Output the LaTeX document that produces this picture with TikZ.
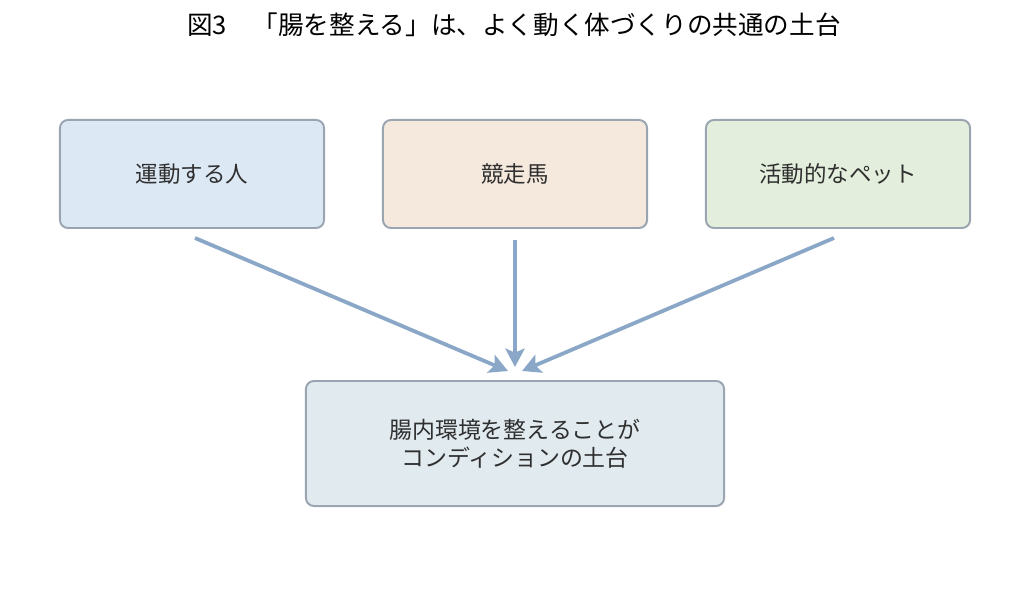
\documentclass[tikz,border=0pt]{standalone}
\usepackage{fontspec}
\setmainfont{Noto Sans CJK JP}
\usetikzlibrary{arrows.meta}
\definecolor{edgegray}{HTML}{9AA5B1}
\definecolor{arrowblue}{HTML}{8AA7C8}
\definecolor{textgray}{HTML}{2F2F2F}
\definecolor{fillblue}{HTML}{DDE8F5}
\definecolor{fillsand}{HTML}{F5E9DD}
\definecolor{fillgreen}{HTML}{E3EFDC}
\definecolor{fillbase}{HTML}{E0EAEF}

\begin{document}
\begin{tikzpicture}[x=0.025cm, y=-0.025cm]
			\tikzstyle{source} = [
				rectangle, rounded corners = 0.2cm, draw = edgegray, line width = 1.4pt,
				minimum width = 6.6cm, minimum height = 2.7cm,
				text = textgray, font = \fontsize{16}{19}\selectfont
			]
			\tikzstyle{base} = [
				source, minimum width = 10.45cm, minimum height = 3.125cm,
				align = center, font = \fontsize{16.3}{20}\selectfont
			]
			\tikzstyle{line}=[draw=arrowblue,line width=2.7pt,-{Stealth[length=4.6mm,width=4.8mm,inset=1mm]}]
			\useasboundingbox (0,0) rectangle (1029,602);
			\node[text=black, font=\fontsize{18.2}{22}\selectfont] (title) at (514,25) {図3　「腸を整える」は、よく動く体づくりの共通の土台};
			\node[source, fill = fillblue] (1) at (192,174) {運動する人};
			\node[source, fill = fillsand] (2) at (515,174) {競走馬};
			\node[source, fill = fillgreen] (3) at (838,174) {活動的なペット};
			\node[base, fill = fillbase] (4) at (515,443.5) {腸内環境を整えることが\\コンディションの土台};
			\coordinate (in1) at (508,371);
			\coordinate (in2) at (515,367);
			\coordinate (in3) at (522,371);
			\draw (1.south) ++(3,9) coordinate (out1);
			\draw (2.south) ++(0,11) coordinate (out2);
			\draw (3.south) ++(-4,9) coordinate (out3);
			\draw (out1) to (in1) [line];
			\draw (out2) to (in2) [line];
			\draw (out3) to (in3) [line];
		\end{tikzpicture}
\end{document}
